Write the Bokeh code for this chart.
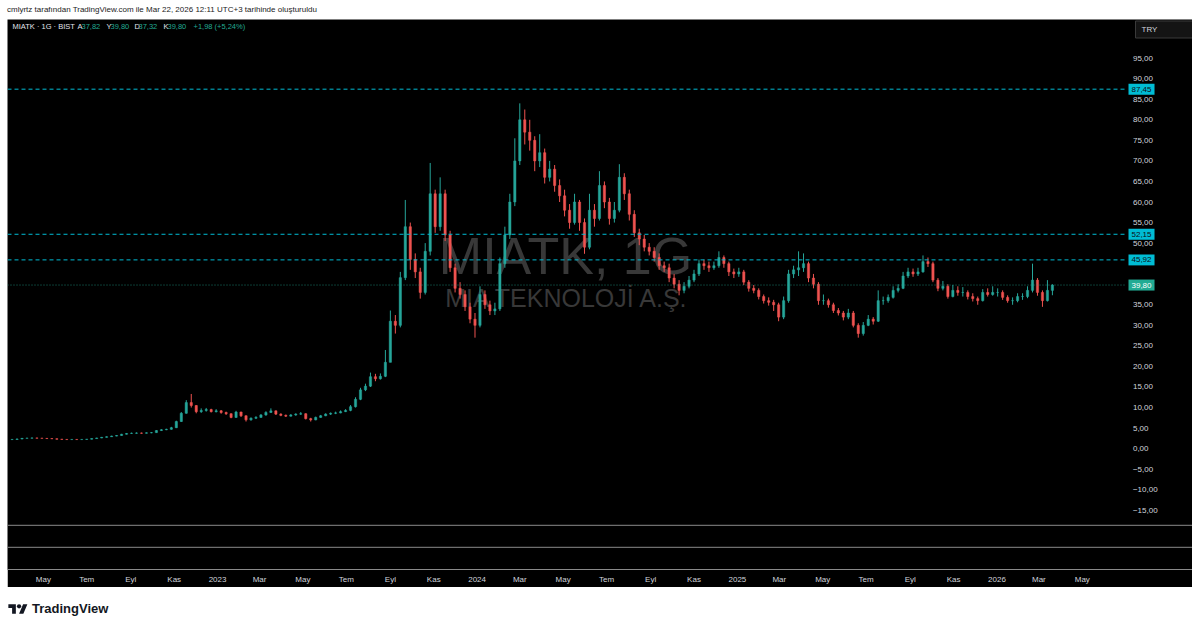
import pandas as pd
from bokeh.plotting import figure
from bokeh.models import (Range1d, FixedTicker, CustomJSTickFormatter, Span, Label,
                          Div, ColumnDataSource)
from bokeh.layouts import column
from bokeh.embed import file_html
from bokeh.resources import INLINE

# ---------------- data (weekly OHLC) ----------------
first_week = "2022-03-18"
opens = [2.20, 2.25, 2.35, 2.50, 2.55, 2.60, 2.55, 2.50, 2.45, 2.40,
         2.30, 2.25, 2.20, 2.25, 2.20, 2.25, 2.30, 2.45, 2.60, 2.75,
         2.90, 3.05, 3.20, 3.50, 3.70, 3.75, 3.80, 3.75, 3.85, 3.90,
         4.40, 4.60, 4.70, 5.10, 6.60, 8.60, 11.2, 10.5, 9.0, 9.3,
         9.5, 9.0, 9.2, 8.8, 8.5, 7.6, 8.9, 8.0, 7.0, 7.4,
         7.6, 8.2, 8.8, 9.2, 8.4, 8.1, 7.9, 8.2, 8.4, 8.5,
         7.3, 7.0, 7.6, 8.0, 8.4, 8.6, 8.7, 9.0, 9.3, 10.2,
         12.0, 14.3, 15.2, 17.5, 17.0, 17.6, 21.0, 31.0, 30.0, 41.6,
         54.0, 46.0, 43.0, 38.0, 48.0, 62.0, 54.0, 62.0, 52.0, 44.0,
         39.0, 37.5, 34.5, 31.5, 30.0, 37.5, 35.0, 33.5, 34.0, 45.0,
         52.0, 60.0, 70.0, 80.0, 77.0, 75.0, 70.0, 72.0, 66.0, 68.0,
         64.0, 61.5, 58.0, 55.0, 60.0, 55.0, 49.0, 58.0, 56.0, 64.0,
         60.0, 56.0, 58.0, 66.0, 62.0, 57.0, 52.5, 51.0, 49.0, 48.0,
         46.5, 44.5, 44.0, 41.5, 40.0, 38.5, 39.5, 41.0, 42.5, 45.0,
         44.5, 44.0, 44.5, 46.5, 45.0, 43.0, 42.5, 43.0, 40.5, 39.0,
         38.5, 37.0, 36.0, 35.6, 35.0, 32.0, 36.0, 42.5, 43.5, 44.0,
         45.0, 41.5, 40.0, 36.0, 36.0, 35.0, 33.6, 33.0, 32.0, 33.0,
         30.0, 28.0, 30.0, 31.5, 31.0, 36.0, 36.0, 36.8, 38.5, 39.0,
         42.0, 43.0, 42.5, 43.0, 45.5, 45.0, 41.0, 39.0, 39.5, 37.0,
         38.5, 38.0, 38.0, 37.0, 36.5, 36.0, 38.0, 37.5, 38.0, 38.0,
         36.8, 36.0, 36.0, 37.0, 37.0, 38.5, 41.0, 38.0, 36.0, 38.5]
highs = [2.35, 2.45, 2.60, 2.65, 2.70, 2.65, 2.60, 2.55, 2.50, 2.45,
         2.35, 2.30, 2.30, 2.30, 2.30, 2.35, 2.50, 2.65, 2.85, 3.00,
         3.15, 3.30, 3.60, 3.80, 3.90, 3.95, 3.90, 3.95, 4.05, 4.50,
         4.75, 4.85, 5.30, 6.80, 8.90, 11.8, 13.3, 10.6, 9.8, 9.9,
         9.7, 9.6, 9.4, 9.0, 8.6, 9.2, 9.0, 8.1, 7.6, 7.9,
         8.4, 9.1, 9.8, 9.3, 8.6, 8.3, 8.4, 8.6, 8.9, 8.6,
         7.5, 7.8, 8.2, 8.6, 8.8, 9.0, 9.3, 9.6, 10.6, 12.5,
         14.8, 15.8, 18.5, 18.2, 18.3, 24.0, 33.6, 32.5, 43.0, 60.5,
         55.0, 47.5, 44.0, 50.0, 69.5, 63.0, 66.0, 63.0, 53.0, 45.0,
         40.5, 38.5, 35.5, 33.0, 39.5, 38.5, 36.0, 35.5, 46.5, 54.0,
         62.0, 75.5, 84.0, 82.5, 80.0, 76.0, 76.5, 73.0, 70.0, 69.0,
         65.5, 63.0, 59.5, 62.0, 60.5, 56.0, 62.0, 59.5, 67.5, 65.0,
         61.0, 60.0, 69.2, 67.0, 63.0, 58.0, 53.5, 52.0, 50.0, 49.0,
         47.5, 45.5, 45.0, 42.5, 41.0, 40.5, 42.0, 43.5, 46.0, 46.0,
         45.5, 45.5, 48.0, 47.0, 45.5, 43.8, 44.0, 43.5, 41.0, 39.8,
         39.0, 37.5, 36.8, 36.2, 35.5, 37.0, 43.5, 44.5, 48.0, 47.5,
         45.5, 42.5, 40.5, 37.5, 36.5, 35.5, 34.2, 33.5, 34.0, 33.5,
         30.5, 30.8, 32.5, 32.0, 38.5, 37.0, 37.5, 39.5, 40.0, 43.0,
         44.0, 43.8, 44.0, 47.0, 46.5, 45.5, 41.5, 40.8, 40.0, 39.8,
         39.5, 39.3, 38.5, 37.8, 37.0, 38.8, 39.0, 39.5, 39.0, 38.5,
         37.3, 36.8, 37.8, 37.8, 39.5, 45.0, 41.5, 38.5, 41.0, 40.0]
lows = [2.15, 2.20, 2.30, 2.45, 2.50, 2.50, 2.45, 2.40, 2.35, 2.25,
        2.20, 2.15, 2.15, 2.15, 2.15, 2.20, 2.25, 2.40, 2.55, 2.70,
        2.85, 3.00, 3.15, 3.45, 3.60, 3.65, 3.65, 3.70, 3.75, 3.85,
        4.30, 4.50, 4.60, 5.00, 6.50, 8.50, 10.0, 8.6, 8.7, 9.0,
        8.8, 8.8, 8.5, 8.2, 7.4, 7.5, 7.7, 6.6, 6.8, 7.2,
        7.5, 8.0, 8.7, 8.2, 7.9, 7.7, 7.8, 8.0, 8.2, 7.1,
        6.6, 6.9, 7.5, 7.9, 8.2, 8.4, 8.6, 8.9, 9.1, 10.0,
        11.8, 14.0, 15.0, 16.4, 16.8, 17.4, 21.0, 28.0, 29.5, 41.0,
        43.5, 41.5, 36.5, 37.5, 47.0, 52.5, 53.0, 50.5, 43.0, 38.0,
        36.5, 33.5, 30.5, 27.0, 29.5, 34.0, 32.5, 32.5, 33.5, 44.0,
        51.0, 59.0, 69.0, 74.0, 72.5, 67.5, 68.5, 64.5, 65.0, 62.5,
        60.0, 56.5, 53.5, 54.5, 53.0, 47.4, 48.5, 54.0, 55.5, 58.5,
        54.5, 55.0, 57.5, 60.5, 55.5, 51.5, 49.5, 48.0, 47.0, 45.5,
        43.5, 43.0, 40.5, 39.0, 37.3, 37.8, 39.0, 40.5, 42.0, 43.5,
        43.0, 43.5, 44.0, 44.0, 42.0, 41.5, 41.8, 39.8, 38.2, 37.8,
        36.3, 35.3, 34.8, 33.5, 31.0, 31.5, 35.5, 41.5, 42.0, 43.0,
        40.5, 39.0, 35.0, 35.0, 34.3, 33.0, 32.4, 31.2, 31.5, 29.5,
        27.0, 27.5, 29.8, 30.2, 30.8, 35.0, 35.5, 36.5, 38.0, 38.8,
        41.5, 41.8, 42.0, 42.8, 44.2, 40.5, 38.3, 38.5, 36.5, 36.8,
        37.2, 37.0, 36.3, 35.8, 35.0, 35.8, 37.0, 37.2, 37.0, 36.2,
        35.5, 35.0, 35.6, 36.2, 36.6, 38.0, 37.2, 34.5, 35.8, 37.32]
closes = [2.25, 2.35, 2.50, 2.55, 2.60, 2.55, 2.50, 2.45, 2.40, 2.30,
          2.25, 2.20, 2.25, 2.20, 2.25, 2.30, 2.45, 2.60, 2.75, 2.90,
          3.05, 3.20, 3.50, 3.70, 3.75, 3.80, 3.75, 3.85, 3.90, 4.40,
          4.60, 4.70, 5.10, 6.60, 8.60, 11.2, 10.5, 9.0, 9.3, 9.5,
          9.0, 9.2, 8.8, 8.5, 7.6, 8.9, 8.0, 7.0, 7.4, 7.6,
          8.2, 8.8, 9.2, 8.4, 8.1, 7.9, 8.2, 8.4, 8.5, 7.3,
          7.0, 7.6, 8.0, 8.4, 8.6, 8.7, 9.0, 9.3, 10.2, 12.0,
          14.3, 15.2, 17.5, 17.0, 17.6, 21.0, 31.0, 30.0, 41.6, 54.0,
          46.0, 43.0, 38.0, 48.0, 62.0, 54.0, 62.0, 52.0, 44.0, 39.0,
          37.5, 34.5, 31.5, 30.0, 37.5, 35.0, 33.5, 34.0, 45.0, 52.0,
          60.0, 70.0, 80.0, 77.0, 75.0, 70.0, 72.0, 66.0, 68.0, 64.0,
          61.5, 58.0, 55.0, 60.0, 55.0, 49.0, 58.0, 56.0, 64.0, 60.0,
          56.0, 58.0, 66.0, 62.0, 57.0, 52.5, 51.0, 49.0, 48.0, 46.5,
          44.5, 44.0, 41.5, 40.0, 38.5, 39.5, 41.0, 42.5, 45.0, 44.5,
          44.0, 44.5, 46.5, 45.0, 43.0, 42.5, 43.0, 40.5, 39.0, 38.5,
          37.0, 36.0, 35.6, 35.0, 32.0, 36.0, 42.5, 43.5, 44.0, 45.0,
          41.5, 40.0, 36.0, 36.0, 35.0, 33.6, 33.0, 32.0, 33.0, 30.0,
          28.0, 30.0, 31.5, 31.0, 36.0, 36.0, 36.8, 38.5, 39.0, 42.0,
          43.0, 42.5, 43.0, 45.5, 45.0, 41.0, 39.0, 39.5, 37.0, 38.5,
          38.0, 38.0, 37.0, 36.5, 36.0, 38.0, 37.5, 38.0, 38.0, 36.8,
          36.0, 36.0, 37.0, 37.0, 38.5, 41.0, 38.0, 36.0, 38.5, 39.80]

level_values = [87.45, 52.15, 45.92]
level_texts = ["87,45", "52,15", "45,92"]
last_value = 39.80
last_text = "39,80"
price_ticks = [-15, -10, -5, 0, 5, 10, 15, 20, 25, 30, 35, 50, 55, 60, 65, 70, 75, 80, 85, 90, 95]
month_names = ["Oca", "Şub", "Mar", "Nis", "May", "Haz", "Tem", "Ağu", "Eyl", "Eki", "Kas", "Ara"]
legend_parts = [("MIATK · 1G · BIST", "#e0e3eb"), ("A", "#e0e3eb"), ("37,82", "#22ab94"),
                ("Y", "#e0e3eb"), ("39,80", "#22ab94"), ("D", "#e0e3eb"), ("37,32", "#22ab94"),
                ("K", "#e0e3eb"), ("39,80", "#22ab94"), ("+1,98 (+5,24%)", "#22ab94")]
legend_x = [5, 70, 74, 99, 103, 127, 131, 156, 160, 186]

# ---------------- build ----------------
UP, DOWN = "#26a69a", "#ef5350"
dates = pd.date_range(first_week, periods=len(closes), freq="7D")
df = pd.DataFrame({"date": dates, "open": opens, "high": highs, "low": lows, "close": closes})
df["top"] = df[["open", "close"]].max(axis=1)
df["bottom"] = df[["open", "close"]].min(axis=1)
df["color"] = [UP if c >= o else DOWN for o, c in zip(df["open"], df["close"])]
src = ColumnDataSource(df)

x_start = pd.Timestamp("2022-03-11 14:00")
x_end = pd.Timestamp("2026-10-03")
price_axis_at = pd.Timestamp("2026-06-30")

FONT = "Liberation Sans"
p = figure(width=1185, height=568, x_axis_type="datetime", y_axis_location="right",
           output_backend="svg", toolbar_location=None,
           x_range=Range1d(x_start, x_end), y_range=Range1d(-29.4, 104.4),
           min_border_left=0, min_border_top=0, min_border_bottom=18, min_border_right=0)
p.background_fill_color = "black"
p.border_fill_color = "black"
p.outline_line_color = None
p.grid.visible = False

# watermark (behind candles)
p.add_layout(Label(x=558, y=314, x_units="screen", y_units="screen", text="MIATK, 1G",
                   text_font=FONT, text_font_size="52px", text_color="#383838",
                   text_align="center", text_baseline="middle", level="underlay"))
p.add_layout(Label(x=560, y=272, x_units="screen", y_units="screen", text="MIA TEKNOLOJİ A.Ş.",
                   text_font=FONT, text_font_size="25px", text_color="#383838",
                   text_align="center", text_baseline="middle", level="underlay"))

day_ms = 24 * 3600 * 1000
p.segment(x0="date", y0="low", x1="date", y1="high", color="color", line_width=1, source=src)
p.vbar(x="date", width=3.2 * day_ms, top="top", bottom="bottom", fill_color="color",
       line_color="color", line_width=0.5, source=src)

# horizontal levels, ending at the price scale
n = len(level_values)
p.segment(x0=[x_start] * n, y0=level_values, x1=[price_axis_at] * n, y1=level_values,
          line_color="#00bcd4", line_width=1, line_dash="4 3")
p.segment(x0=[x_start], y0=[last_value], x1=[price_axis_at], y1=[last_value],
          line_color="#22ab94", line_alpha=0.7, line_width=1, line_dash="1 2")

# sub-pane separators
for loc in [-18.65, -24.0]:
    p.add_layout(Span(location=loc, dimension="width", line_color="#8a8a8a", line_width=1))

# price scale (drawn at a fixed place inside the black area)
yax = p.yaxis[0]
yax.fixed_location = float(price_axis_at.value // 10**6)
yax.ticker = FixedTicker(ticks=price_ticks)
yax.formatter = CustomJSTickFormatter(
    code="return (tick < 0 ? '\u2212' : '') + Math.abs(tick).toFixed(2).replace('.', ',');")
yax.axis_line_color = None
yax.major_tick_line_color = None
yax.minor_tick_line_color = None
yax.major_tick_out = 0
yax.major_tick_in = 0
yax.major_label_standoff = 8
yax.major_label_text_font = FONT
yax.major_label_text_font_size = "8px"
yax.major_label_text_color = "#d1d4dc"

month_ticks = pd.date_range("2022-05-01", "2026-06-30", freq="2MS")
p.xaxis.ticker = FixedTicker(ticks=[int(t.value // 10**6) for t in month_ticks])
p.xaxis.formatter = CustomJSTickFormatter(args=dict(names=month_names), code="""
    const d = new Date(tick); const m = d.getUTCMonth();
    return m == 0 ? String(d.getUTCFullYear()) : names[m];""")
p.xaxis.axis_line_color = "#8a8a8a"
p.xaxis.major_tick_line_color = None
p.xaxis.minor_tick_line_color = None
p.xaxis.major_tick_out = 0
p.xaxis.major_label_standoff = 5
p.xaxis.major_label_text_font = FONT
p.xaxis.major_label_text_font_size = "8px"
p.xaxis.major_label_text_color = "#d1d4dc"

# price labels on the scale
for v, t in zip(level_values, level_texts):
    p.add_layout(Label(x=1121, y=v, x_units="screen", y_units="data", text=t,
                       text_font=FONT, text_font_size="8px", text_color="#0c0e15",
                       text_baseline="middle", background_fill_color="#00bcd4", padding=3))
p.add_layout(Label(x=1121, y=last_value, x_units="screen", y_units="data", text=last_text,
                   text_font=FONT, text_font_size="8px", text_color="white",
                   text_baseline="middle", background_fill_color="#22ab94", padding=3))

# TRY button
p.add_layout(Label(x=1128, y=540, x_units="screen", y_units="screen", text="TRY",
                   text_font=FONT, text_font_size="8px", text_color="#d1d4dc",
                   text_baseline="middle", background_fill_color="#141414",
                   border_line_color="#3a3a3a", padding=dict(left=6, right=38, top=4, bottom=4)))

# legend header
for (t, c), x in zip(legend_parts, legend_x):
    p.add_layout(Label(x=x, y=543, x_units="screen", y_units="screen", text=t,
                       text_font=FONT, text_font_size="7.5px", text_color=c,
                       text_baseline="middle"))

header = Div(text='<div style="font-family:\'Liberation Sans\',sans-serif;font-size:8px;'
                  'color:#222;line-height:11px;padding-top:2px;white-space:nowrap;">'
                  'cmlyrtz tarafından TradingView.com ile Mar 22, 2026 12:11 UTC+3 tarihinde oluşturuldu</div>',
             width=1185, height=19, margin=0)
footer = Div(text='<div style="display:flex;align-items:center;padding-top:13px;padding-left:1px;">'
                  '<svg width="20" height="15" viewBox="0 0 36 28"><path fill="#131722" '
                  'd="M14 22H7V11H0V4h14v18zM28 22h-8l7.5-18h8L28 22z"/>'
                  '<circle fill="#131722" cx="20" cy="8" r="4"/></svg>'
                  '<span style="font-family:\'Liberation Sans\',sans-serif;font-weight:700;font-size:13px;'
                  'color:#131722;margin-left:4px;">TradingView</span></div>',
             width=1185, height=32, margin=0)

layout = column(header, p, footer, spacing=0, margin=(0, 0, 0, 7))
open("out.html", "w").write(file_html(layout, INLINE))
